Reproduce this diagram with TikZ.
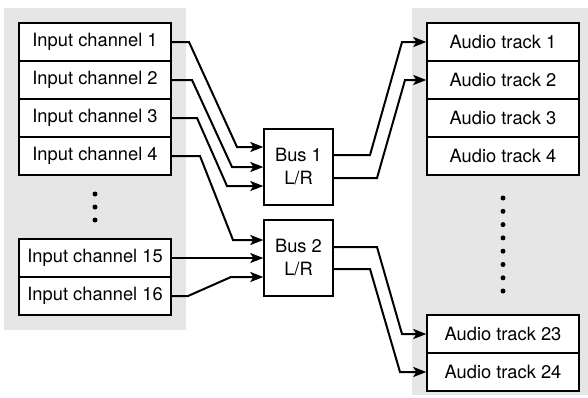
\documentclass[tikz,border=0pt]{standalone}
\usepackage{fontspec}
\setmainfont{TeX Gyre Heros}
\usetikzlibrary{arrows.meta}
\definecolor{panelgray}{HTML}{E6E6E6}
\begin{document}
\begin{tikzpicture}[x=1pt,y=-1pt,
  chan/.style={draw,line width=1.4pt,fill=white,minimum width=152pt,minimum height=38pt,inner sep=0pt,
    font=\fontsize{18.3}{22}\selectfont},
  busbox/.style={draw,line width=1.4pt,fill=white,minimum width=69pt,minimum height=76pt,inner sep=0pt,
    align=center,font=\fontsize{18.3}{23}\selectfont},
  wire/.style={line width=2pt,line join=miter},
  arr/.style={wire,-{Stealth[length=13pt,width=10pt,inset=3pt]}},
  dotmark/.style={circle,fill=black,inner sep=0pt,minimum size=5pt}]
\useasboundingbox (0,0) rectangle (588,397);
\fill[panelgray] (4,8) rectangle (186,330);
\fill[panelgray] (412,8) rectangle (588,395);
% input channels
\node[chan] (in1) at (95,42) {Input channel 1};
\node[chan] (in2) at (95,80) {Input channel 2};
\node[chan] (in3) at (95,118) {Input channel 3};
\node[chan] (in4) at (95,156) {Input channel 4};
\node[chan] (in15) at (95,258) {Input channel 15};
\node[chan] (in16) at (95,296) {Input channel 16};
\node[dotmark] (ld1) at (95,194) {};
\node[dotmark] (ld2) at (95,207) {};
\node[dotmark] (ld3) at (95,220) {};
% audio tracks
\node[chan] (at1) at (503,42) {Audio track 1};
\node[chan] (at2) at (503,80) {Audio track 2};
\node[chan] (at3) at (503,118) {Audio track 3};
\node[chan] (at4) at (503,156) {Audio track 4};
\node[chan] (at23) at (503,334) {Audio track 23};
\node[chan] (at24) at (503,372) {Audio track 24};
\foreach \i/\y in {1/198,2/211.3,3/224.6,4/237.9,5/251.2,6/264.5,7/277.8,8/291}
  \node[dotmark] (rd\i) at (503,\y) {};
% buses
\node[busbox] (bus1) at (298.5,167) {Bus 1\\L/R};
\node[busbox] (bus2) at (298.5,258) {Bus 2\\L/R};
% bus ports
\coordinate (b1i1) at (bus1.west |- 0,147);
\coordinate (b1i2) at (bus1.west |- 0,167);
\coordinate (b1i3) at (bus1.west |- 0,186);
\coordinate (b2i1) at (bus2.west |- 0,240);
\coordinate (b2i2) at (bus2.west |- 0,258);
\coordinate (b2i3) at (bus2.west |- 0,277);
\coordinate (b1o1) at (bus1.east |- 0,155);
\coordinate (b1o2) at (bus1.east |- 0,178);
\coordinate (b2o1) at (bus2.east |- 0,247);
\coordinate (b2o2) at (bus2.east |- 0,269);
% inputs to buses
\draw[arr] (in1.east) -- (189,42) -- (237,147) -- (b1i1);
\draw[arr] (in2.east) -- (192,80) -- (232,167) -- (b1i2);
\draw[arr] (in3.east) -- (197,118) -- (227,186) -- (b1i3);
\draw[arr] (in4.east) -- (200,156) -- (233,240) -- (b2i1);
\draw[arr] (in15.east) -- (b2i2);
\draw[arr] (in16.east) -- (188,296) -- (231,277) -- (b2i3);
% buses to tracks
\draw[arr] (b1o1) -- (370,155) -- (402,42) -- (at1.west);
\draw[arr] (b1o2) -- (377,178) -- (405,80) -- (at2.west);
\draw[arr] (b2o1) -- (377,247) -- (402,334) -- (at23.west);
\draw[arr] (b2o2) -- (370,269) -- (400,372) -- (at24.west);
\end{tikzpicture}
\end{document}
